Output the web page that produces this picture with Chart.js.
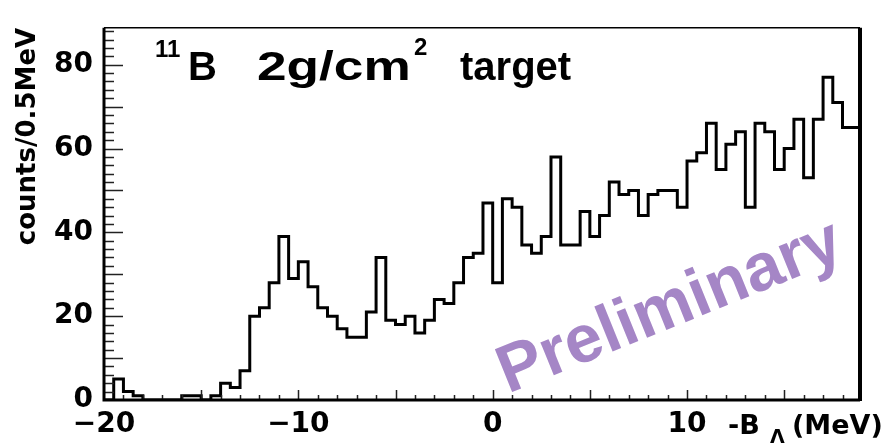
<!DOCTYPE html>
<html>
<head>
<meta charset="utf-8">
<script src="https://cdn.jsdelivr.net/npm/chart.js@4"></script>
<style>
  html, body { margin: 0; padding: 0; background: #fff; }
  #wrap { width: 883px; height: 444px; }
</style>
</head>
<body>
<div id="wrap"><canvas id="chart" width="883" height="444"></canvas></div>
<script>
// histogram: counts per 0.5 MeV bin, starting at -20 MeV
const binStart = -20;
const binWidth = 0.5;
const counts = [
  0, 5, 2, 1, 0, 0, 0, 0, 1, 1, 0, 1, 4, 3, 7, 20, 22, 28, 39, 29,
  33, 27, 22, 20, 17, 15, 15, 21, 34, 19, 18, 20, 16, 19, 24, 23, 28, 34, 35, 47,
  28, 48, 46, 37, 35, 39, 58, 37, 37, 45, 39, 44, 52, 49, 50, 44, 49, 50, 50, 46,
  57, 59, 66, 55, 61, 64, 46, 66, 64, 55, 60, 67, 53, 67, 77, 71, 65, 65
];
const xRange = [-20, 18.9];
const yRange = [0, 88.8];
const xLabels = [-20, -10, 0, 10];
const yLabels = [0, 20, 40, 60, 80];

// step points at the left edge of each bin, plus the closing right edge
const points = counts.map((c, i) => ({ x: binStart + i * binWidth, y: c }));
points.push({ x: binStart + counts.length * binWidth, y: counts[counts.length - 1] });

const BOLD = '"DejaVu Sans", sans-serif';
const SANS = '"Liberation Sans", Arial, sans-serif';

// ROOT style frame, inner ticks, title and watermark
const decorations = {
  id: 'decorations',
  beforeDatasetsDraw(chart) {
    const ctx = chart.ctx;
    const a = chart.chartArea;
    // Preliminary watermark
    ctx.save();
    ctx.translate(a.left + 404, a.top + 366);
    ctx.rotate(-22 * Math.PI / 180);
    ctx.fillStyle = '#a586c6';
    ctx.font = 'bold 67px ' + SANS;
    ctx.textBaseline = 'alphabetic';
    ctx.fillText('Preliminary', 0, 0);
    ctx.restore();
  },
  afterDatasetsDraw(chart) {
    const ctx = chart.ctx;
    const a = chart.chartArea;
    const xs = chart.scales.x, ys = chart.scales.y;
    ctx.save();
    ctx.strokeStyle = '#222';
    ctx.lineWidth = 1.5;
    ctx.beginPath();
    for (let v = 2; v < yRange[1]; v += 2) {
      const py = Math.round(ys.getPixelForValue(v)) + 0.5;
      const len = v % 10 === 0 ? 19 : 10;
      ctx.moveTo(a.left, py);
      ctx.lineTo(a.left + len, py);
    }
    for (let v = -19; v < xRange[1]; v += 1) {
      const px = Math.round(xs.getPixelForValue(v)) + 0.5;
      const len = v % 5 === 0 ? 10 : 5;
      ctx.moveTo(px, a.bottom);
      ctx.lineTo(px, a.bottom - len);
    }
    ctx.stroke();

    // frame
    ctx.strokeStyle = '#000';
    ctx.lineWidth = 1.5;
    ctx.beginPath();
    ctx.moveTo(a.left, a.top);
    ctx.lineTo(a.right, a.top);
    ctx.stroke();
    ctx.lineWidth = 4;
    ctx.beginPath();
    ctx.moveTo(a.right, a.top);
    ctx.lineTo(a.right, a.bottom + 1);
    ctx.stroke();
    ctx.lineWidth = 3;
    ctx.beginPath();
    ctx.moveTo(a.left, a.top);
    ctx.lineTo(a.left, a.bottom);
    ctx.lineTo(a.right, a.bottom);
    ctx.stroke();

    // title inside the frame
    ctx.fillStyle = '#000';
    ctx.textBaseline = 'alphabetic';
    ctx.font = 'bold 24px ' + SANS;
    ctx.fillText('11', 155, 57);
    ctx.font = 'bold 40px ' + SANS;
    ctx.fillText('B', 188, 80);
    ctx.save();
    ctx.translate(257, 80);
    ctx.scale(1.33, 1);
    ctx.fillText('2g/cm', 0, 0);
    ctx.restore();
    ctx.font = 'bold 24px ' + SANS;
    ctx.fillText('2', 414, 55);
    ctx.font = 'bold 40px ' + SANS;
    ctx.fillText('target', 460, 80);

    // x axis title  -B_Lambda (MeV)
    ctx.font = 'bold 27px ' + BOLD;
    ctx.fillText('-B', 728, 434);
    ctx.font = 'bold 19px ' + BOLD;
    ctx.fillText('\u039B', 770, 443);
    ctx.font = 'bold 27px ' + BOLD;
    ctx.fillText('(MeV)', 792, 434);
    ctx.restore();
  }
};

new Chart(document.getElementById('chart'), {
  type: 'line',
  data: {
    datasets: [{
      data: points,
      stepped: 'before',
      borderColor: '#000',
      borderWidth: 3,
      pointRadius: 0,
      fill: false
    }]
  },
  options: {
    responsive: false,
    animation: false,
    layout: { padding: { top: 12, right: 23, left: 0, bottom: 0 } },
    plugins: { legend: { display: false }, tooltip: { enabled: false } },
    scales: {
      x: {
        type: 'linear',
        min: xRange[0],
        max: xRange[1],
        afterFit: s => { s.height = 44; },
        afterBuildTicks: s => { s.ticks = xLabels.map(v => ({ value: v })); },
        grid: { display: false, drawTicks: false },
        border: { display: false },
        ticks: {
          autoSkip: false,
          maxRotation: 0,
          padding: 8,
          color: '#000',
          font: { family: BOLD, size: 28, weight: 'bold' },
          callback: v => (v < 0 ? '\u2212' + Math.abs(v) : String(v))
        }
      },
      y: {
        min: yRange[0],
        max: yRange[1],
        afterFit: s => { s.width = 104; },
        afterBuildTicks: s => { s.ticks = yLabels.map(v => ({ value: v })); },
        grid: { display: false, drawTicks: false },
        border: { display: false },
        ticks: {
          padding: 11,
          color: '#000',
          font: { family: BOLD, size: 28, weight: 'bold' }
        },
        title: {
          display: true,
          text: 'counts/0.5MeV',
          align: 'end',
          color: '#000',
          padding: { top: 13, bottom: 0 },
          font: { family: BOLD, size: 26, weight: 'bold' }
        }
      }
    }
  },
  plugins: [decorations]
});
</script>
</body>
</html>
